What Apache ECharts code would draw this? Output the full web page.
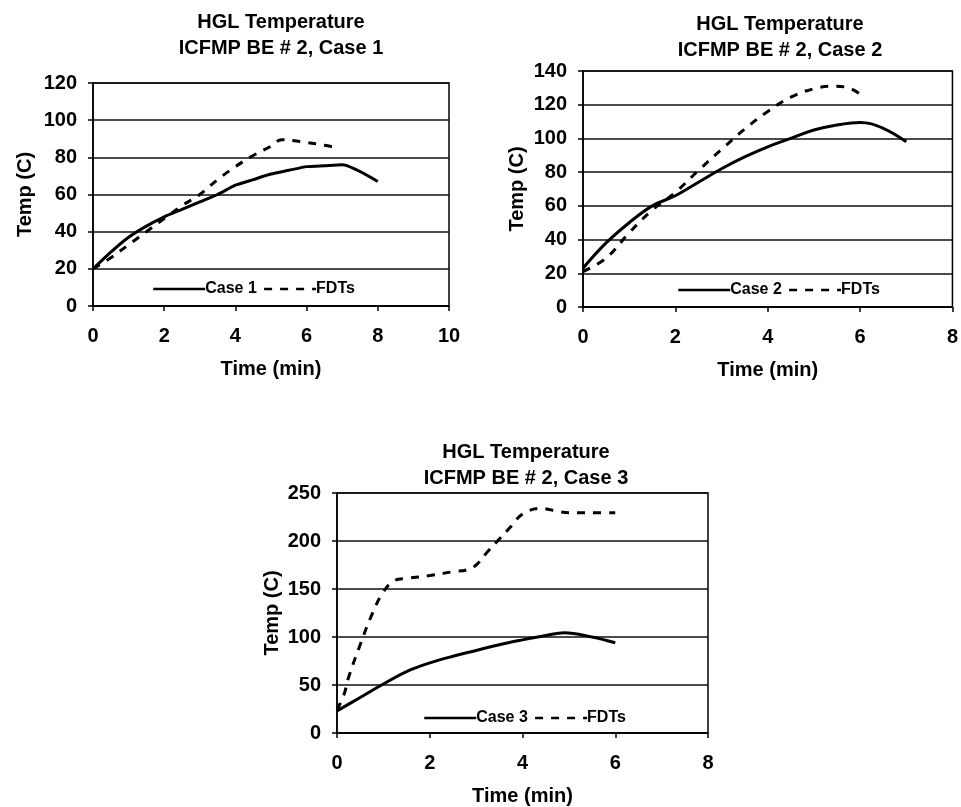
<!DOCTYPE html>
<html><head><meta charset="utf-8">
<script src="https://cdn.jsdelivr.net/npm/echarts@6/dist/echarts.min.js"></script>
<style>html,body{margin:0;padding:0;background:#fff}#c{width:961px;height:807px}</style>
</head><body><div id="c"></div>
<script>
// Chart 1
const c1Time = [0,0.5,1,1.5,2,2.5,3,3.5,4,4.5,5,5.5,6,6.5,7,8];
const c1Case = [20,29,37,43,48,52,56,60,65,68,71,73,75,75.5,76,67];
const c1FdtTime = [0,0.5,1,1.5,2,2.5,3,3.5,4,4.5,5,5.3,5.6,6,6.5,6.9];
const c1Fdt = [20,26,33,40,47,54,60,68,75,81,86,89.5,89,88,86.5,85];
// Chart 2
const c2Time = [0,0.5,1,1.5,2,2.5,3,3.5,4,4.5,5,5.5,6,6.5,7];
const c2Case = [23,38,50,60,66,74,82,89,95,100,105,108,109.5,106,98];
const c2FdtTime = [0,0.5,1,1.5,2,2.5,3,3.5,4,4.5,5,5.4,5.8,6.1];
const c2Fdt = [21,29,44,57.5,68,81,93.5,105.5,116,124.5,129.5,131,129.5,124];
// Chart 3
const c3Time = [0,0.5,1,1.5,2,2.5,3,3.5,4,4.5,4.9,5.5,6];
const c3Case = [23,37,51,64,73,80,86,92,97,101.5,104.5,100,94];
const c3FdtTime = [0,0.15,0.25,0.5,0.75,1,1.25,1.5,2,2.5,2.8,3,3.25,3.5,3.75,4,4.4,4.75,5,5.5,6];
const c3Fdt = [24,40,58,92,123,147,159,161,164,168,170,175,189,202,215,228,234,231,229.5,229.5,229.5];

const titles = ['HGL Temperature\nICFMP BE # 2, Case 1','HGL Temperature\nICFMP BE # 2, Case 2','HGL Temperature\nICFMP BE # 2, Case 3'];
const yMax = [120,140,250];
const yIntervals = [20,20,50];
const xMax = [10,8,8];
const xInterval = 2;
const xName = 'Time (min)', yName = 'Temp (C)';
const caseNames = ['Case 1','Case 2','Case 3'];
const fdtName = 'FDTs';

const FONT = 'Liberation Sans, Arial, sans-serif';
const grids = [
  {left:93, top:83, width:356, height:223},
  {left:583, top:71, width:372, height:236},
  {left:337, top:493, width:371, height:245}
];
const titlePos = [[276,4],[775,6],[521,434]];
const legendPos = [[152,281],[677,282],[423,710]];
const yNameGap = [58,56,55];

function pairs(xs, ys){ return xs.map((x,i)=>[x,ys[i]]); }
const caseData = [pairs(c1Time,c1Case), pairs(c2Time,c2Case), pairs(c3Time,c3Case)];
const fdtData = [pairs(c1FdtTime,c1Fdt), pairs(c2FdtTime,c2Fdt), pairs(c3FdtTime,c3Fdt)];

const option = {
  backgroundColor:'#fff',
  animation:false,
  title: titles.map((t,i)=>({
    text:t, left:titlePos[i][0], top:titlePos[i][1], textAlign:'center',
    textStyle:{fontFamily:FONT, fontWeight:'bold', fontSize:20, color:'#000', lineHeight:26}
  })),
  grid: grids.map(g=>Object.assign({show:true, borderColor:'#000', borderWidth:1.5, backgroundColor:'transparent'}, g)),
  legend: [0,1,2].map(i=>({
    left:legendPos[i][0], top:legendPos[i][1], data:[caseNames[i], fdtName],
    itemWidth:52, itemHeight:14, itemGap:6, padding:0,
    itemStyle:{color:'rgba(0,0,0,0)', borderColor:'rgba(0,0,0,0)', borderWidth:0},
    lineStyle:{width:2.5},
    textStyle:{fontFamily:FONT, fontWeight:'bold', fontSize:16, color:'#000', padding:[0,0,0,-5]},
    selectedMode:false
  })),
  xAxis: [0,1,2].map(i=>({
    type:'value', gridIndex:i, min:0, max:xMax[i], interval:xInterval,
    name:xName, nameLocation:'middle', nameGap:53,
    nameTextStyle:{fontFamily:FONT, fontWeight:'bold', fontSize:20, color:'#000'},
    axisLine:{lineStyle:{color:'#000', width:1.5}},
    axisTick:{show:true, length:5, lineStyle:{color:'#000', width:1.5}},
    axisLabel:{fontFamily:FONT, fontWeight:'bold', fontSize:20, color:'#000', margin:20},
    splitLine:{show:false}
  })),
  yAxis: [0,1,2].map(i=>({
    type:'value', gridIndex:i, min:0, max:yMax[i], interval:yIntervals[i],
    name:yName, nameLocation:'middle', nameGap:yNameGap[i], nameRotate:90,
    nameTextStyle:{fontFamily:FONT, fontWeight:'bold', fontSize:20, color:'#000'},
    axisLine:{show:true, lineStyle:{color:'#000', width:1.5}},
    axisTick:{show:true, length:5, lineStyle:{color:'#000', width:1.5}},
    axisLabel:{fontFamily:FONT, fontWeight:'bold', fontSize:20, color:'#000', margin:16},
    splitLine:{show:true, lineStyle:{color:'#111', width:1.5}}
  })),
  series: []
};
for (let i=0;i<3;i++){
  option.series.push({
    name:caseNames[i], type:'line', xAxisIndex:i, yAxisIndex:i, data:caseData[i],
    symbol:'none', smooth: i===0 ? 0.2 : 0.4, color:'#000',
    lineStyle:{color:'#000', width:3}
  });
  option.series.push({
    name:fdtName, type:'line', xAxisIndex:i, yAxisIndex:i, data:fdtData[i],
    symbol:'none', smooth:0.4, color:'#000',
    lineStyle:{color:'#000', width:3, type:[8,8]}
  });
}
const chart = echarts.init(document.getElementById('c'));
chart.setOption(option);
</script></body></html>
